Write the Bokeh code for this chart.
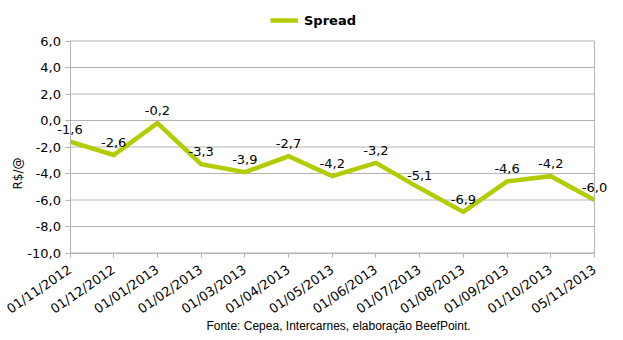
from bokeh.plotting import figure
from bokeh.models import (Range1d, FixedTicker, Label, LabelSet, Legend, LegendItem,
                          ColumnDataSource, LinearAxis)
from bokeh.core.properties import value
from bokeh.embed import file_html
from bokeh.resources import INLINE
import math

dates = ["01/11/2012", "01/12/2012", "01/01/2013", "01/02/2013", "01/03/2013",
         "01/04/2013", "01/05/2013", "01/06/2013", "01/07/2013", "01/08/2013",
         "01/09/2013", "01/10/2013", "05/11/2013"]
spread = [-1.6, -2.6, -0.2, -3.3, -3.9, -2.7, -4.2, -3.2, -5.1, -6.9, -4.6, -4.2, -6.0]
yticks = [6, 4, 2, 0, -2, -4, -6, -8, -10]
series_name = "Spread"
y_title = "R$/@"
footer = "Fonte: Cepea, Intercarnes, elaboração BeefPoint."


def fmt(v):
    return f"{v:.1f}".replace(".", ",")


xs = list(range(len(dates)))
src = ColumnDataSource(dict(x=xs, y=spread, lbl=[fmt(v) for v in spread]))

FONT = "DejaVu Sans"
GRAY = "#b3b3b3"
LINE = "#b3cc00"
TXT = "#000000"

W, H = 623, 340
# plotting-area pixel box (left, right, top, bottom) inside the canvas
PL, PR, PT, PB = 69.5, 594.0, 40.5, 252.5
xmin, xmax = xs[0], xs[-1]
ymin, ymax = min(yticks), max(yticks)
kx = (PR - PL) / (xmax - xmin)
ky = (PB - PT) / (ymax - ymin)
x_range = Range1d(xmin - PL / kx, xmax + (W - PR) / kx)
y_range = Range1d(ymin - (H - PB) / ky, ymax + PT / ky)

p = figure(width=W, height=H, output_backend="svg", toolbar_location=None,
           x_range=x_range, y_range=y_range, min_border=0)
p.background_fill_color = "white"
p.border_fill_color = "white"
p.outline_line_color = None
p.xgrid.visible = False
p.ygrid.visible = False

# horizontal grid lines at the y ticks, spanning the category extent
p.segment(x0=xmin, x1=xmax, y0=yticks, y1=yticks, line_color=GRAY, line_width=1)

r = p.line("x", "y", source=src, line_color=LINE, line_width=4.5, line_join="miter")
p.add_layout(LabelSet(x="x", y="y", text="lbl", source=src, text_align="center",
                      text_baseline="bottom", y_offset=8, text_font=value(FONT),
                      text_font_size=value("13px"), text_color=value(TXT)))

# x axis
p.xaxis.fixed_location = ymin
p.xaxis.bounds = (xmin, xmax)
p.xaxis.ticker = FixedTicker(ticks=xs)
p.xaxis.major_label_overrides = {i: d for i, d in enumerate(dates)}
p.xaxis.major_label_orientation = 0.6
p.xaxis.major_label_text_font = FONT
p.xaxis.major_label_text_font_size = "13px"
p.xaxis.major_label_text_color = TXT
p.xaxis.axis_line_color = GRAY
p.xaxis.major_tick_line_color = GRAY
p.xaxis.major_tick_out = 4
p.xaxis.major_tick_in = 0
p.xaxis.minor_tick_line_color = None
p.xaxis.major_label_standoff = 11

# y axis
p.yaxis.fixed_location = xmin
p.yaxis.bounds = (ymin, ymax)
p.yaxis.ticker = FixedTicker(ticks=yticks)
p.yaxis.major_label_overrides = {t: fmt(t) for t in yticks}
p.yaxis.major_label_text_font = FONT
p.yaxis.major_label_text_font_size = "13px"
p.yaxis.major_label_text_color = TXT
p.yaxis.axis_line_color = GRAY
p.yaxis.major_tick_line_color = GRAY
p.yaxis.major_tick_out = 5
p.yaxis.major_tick_in = 0
p.yaxis.minor_tick_line_color = None
p.yaxis.major_label_standoff = 4

right = LinearAxis(fixed_location=xmax, bounds=(ymin, ymax), axis_line_color=GRAY,
                   major_tick_line_color=None, minor_tick_line_color=None,
                   major_label_text_font_size="0px", ticker=FixedTicker(ticks=[]))
p.add_layout(right, "right")

legend = Legend(items=[LegendItem(label=series_name, renderers=[r])],
                location=(270, H - 30), orientation="horizontal",
                padding=0, margin=0, spacing=0, glyph_width=28, glyph_height=20,
                label_height=20, label_standoff=6,
                label_text_font=FONT, label_text_font_size="13px",
                label_text_font_style="bold", label_text_color=TXT,
                border_line_color=None, background_fill_alpha=0)
p.add_layout(legend, "center")

p.add_layout(Label(x=17, y=H - 173, x_units="screen", y_units="screen", text=y_title,
                   angle=math.pi / 2, text_align="center", text_baseline="middle",
                   text_font=FONT, text_font_size="12px", text_color=TXT))
p.add_layout(Label(x=338, y=H - 325, x_units="screen", y_units="screen", text=footer,
                   text_align="center", text_baseline="middle",
                   text_font="Liberation Sans", text_font_size="12px", text_color=TXT))

open("out.html", "w").write(file_html(p, INLINE))
